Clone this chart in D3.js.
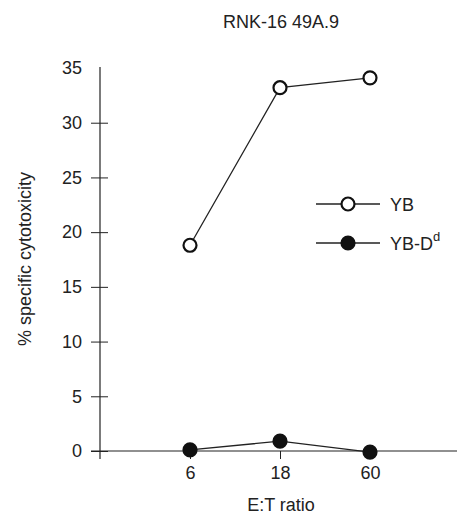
<!DOCTYPE html>
<html>
<head>
<meta charset="utf-8">
<script src="https://cdn.jsdelivr.net/npm/d3@7"></script>
<style>
  body { margin: 0; background: #fff; }
  text { font-family: "Liberation Sans", Arial, sans-serif; fill: #222; }
</style>
</head>
<body>
<div id="chart"></div>
<script>
const ratios = ['6', '18', '60'];
const ybValues = [18.8, 33.2, 34.1];
const ybDdValues = [0.1, 0.9, -0.1];
const yTicks = [0, 5, 10, 15, 20, 25, 30, 35];

const width = 457;
const height = 515;
const fontSize = '18px';

const svg = d3.select('#chart')
  .append('svg')
  .attr('width', width)
  .attr('height', height);

const x = d3.scalePoint()
  .domain(ratios)
  .range([100, 460])
  .padding(1);

const y = d3.scaleLinear()
  .domain([0, 35])
  .range([451, 68]);

// title
svg.append('text')
  .attr('x', 281)
  .attr('y', 28)
  .attr('text-anchor', 'middle')
  .style('font-size', fontSize)
  .text('RNK-16 49A.9');

// y axis, ticks cross the axis line
const yAxis = svg.append('g')
  .attr('transform', 'translate(100,0)')
  .call(d3.axisLeft(y).tickValues(yTicks).tickSize(9).tickPadding(9));
yAxis.select('.domain').remove();
yAxis.selectAll('.tick line')
  .attr('x1', 8)
  .attr('x2', -9)
  .attr('stroke', '#222')
  .attr('display', d => d === 35 ? 'none' : null);
yAxis.selectAll('.tick text')
  .style('font-size', fontSize)
  .attr('fill', '#222');
svg.append('line')
  .attr('x1', 100).attr('x2', 100)
  .attr('y1', 67).attr('y2', 459)
  .attr('stroke', '#222').attr('stroke-width', 1.2);

// x axis
const xAxis = svg.append('g')
  .attr('transform', `translate(0,${y(0)})`)
  .call(d3.axisBottom(x).tickSize(8).tickPadding(7));
xAxis.select('.domain').remove();
xAxis.selectAll('.tick line').attr('stroke', '#222');
xAxis.selectAll('.tick text')
  .style('font-size', fontSize)
  .attr('fill', '#222');
svg.append('line')
  .attr('x1', 91).attr('x2', width)
  .attr('y1', y(0)).attr('y2', y(0))
  .attr('stroke', '#222').attr('stroke-width', 1.2);

// axis labels
svg.append('text')
  .attr('x', 281)
  .attr('y', 511)
  .attr('text-anchor', 'middle')
  .style('font-size', fontSize)
  .text('E:T ratio');

svg.append('text')
  .attr('transform', 'translate(31,259) rotate(-90)')
  .attr('text-anchor', 'middle')
  .style('font-size', fontSize)
  .text('% specific cytotoxicity');

// series
const line = d3.line()
  .x((d, i) => x(ratios[i]))
  .y(d => y(d));

const series = [
  { values: ybValues, fill: '#fff' },
  { values: ybDdValues, fill: '#111' }
];

series.forEach(s => {
  svg.append('path')
    .datum(s.values)
    .attr('d', line)
    .attr('fill', 'none')
    .attr('stroke', '#222')
    .attr('stroke-width', 1.3);

  svg.selectAll(null)
    .data(s.values)
    .enter()
    .append('circle')
    .attr('cx', (d, i) => x(ratios[i]))
    .attr('cy', d => y(d))
    .attr('r', 6.5)
    .attr('fill', s.fill)
    .attr('stroke', '#111')
    .attr('stroke-width', 2.2);
});

// legend
const legend = svg.append('g');
const legendRows = [
  { label: 'YB', sup: '', fill: '#fff', yPos: 204 },
  { label: 'YB-D', sup: 'd', fill: '#111', yPos: 243 }
];
legendRows.forEach(r => {
  legend.append('line')
    .attr('x1', 316).attr('x2', 380)
    .attr('y1', r.yPos).attr('y2', r.yPos)
    .attr('stroke', '#222').attr('stroke-width', 1.3);
  legend.append('circle')
    .attr('cx', 348).attr('cy', r.yPos)
    .attr('r', 6.5)
    .attr('fill', r.fill)
    .attr('stroke', '#111')
    .attr('stroke-width', 2.2);
  const t = legend.append('text')
    .attr('x', 390)
    .attr('y', r.yPos + 7)
    .style('font-size', fontSize)
    .text(r.label);
  if (r.sup) {
    t.append('tspan')
      .attr('dy', -9)
      .style('font-size', '13px')
      .text(r.sup);
  }
});
</script>
</body>
</html>
